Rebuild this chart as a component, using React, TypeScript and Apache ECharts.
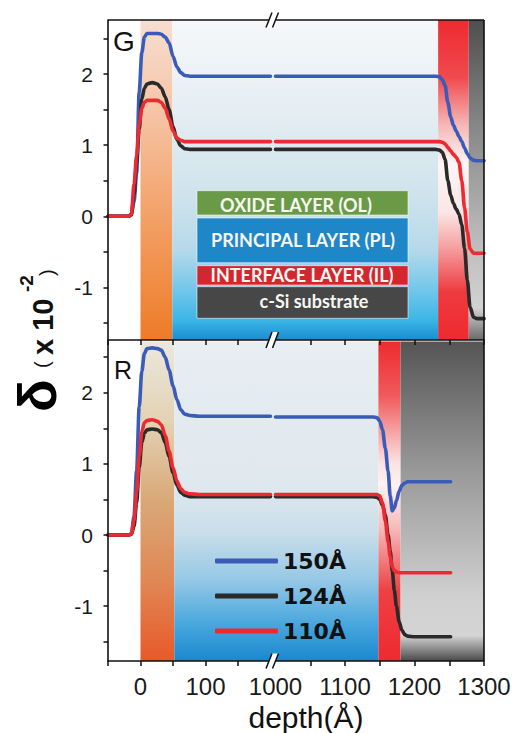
import React, { useEffect, useRef } from 'react';
import * as echarts from 'echarts';

// ---- data -------------------------------------------------------------
const seriesNames = ['150Å', '124Å', '110Å'];
const seriesColors = ['#3a5cb8', '#2a2a2a', '#ee2a30'];

// depth samples (Å) for the surface side and the deep side of the broken axis
const depthNear = [-50, -18, -14, -10, -6, -2, 2, 6, 10, 18, 26, 32, 38, 44, 50, 56, 62, 68, 76, 90, 200];
const depthFarG = [1000, 1230, 1236, 1240, 1244, 1248, 1252, 1256, 1260, 1264, 1268, 1272, 1276, 1280, 1285, 1290, 1300];
const depthFarR = [1000, 1140, 1146, 1150, 1154, 1158, 1162, 1165, 1168, 1171, 1174, 1178, 1182, 1186, 1190, 1200, 1252];

// panel G: delta (x 10^-2)
const gNear150 = [0, 0, 0.03, 0.2, 0.6, 1.75, 2.3, 2.52, 2.57, 2.57, 2.57, 2.56, 2.52, 2.44, 2.25, 2.1, 2.02, 1.98, 1.97, 1.97, 1.97];
const gNear124 = [0, 0, 0.02, 0.3, 0.75, 1.22, 1.65, 1.8, 1.86, 1.88, 1.86, 1.8, 1.68, 1.5, 1.26, 1.08, 0.99, 0.95, 0.94, 0.94, 0.94];
const gNear110 = [0, 0, 0.03, 0.45, 0.85, 1.3, 1.52, 1.6, 1.63, 1.63, 1.63, 1.6, 1.52, 1.37, 1.2, 1.1, 1.07, 1.05, 1.05, 1.05, 1.05];
const gFar150 = [1.97, 1.97, 1.96, 1.92, 1.84, 1.6, 1.4, 1.28, 1.2, 1.12, 1.05, 0.96, 0.88, 0.82, 0.79, 0.78, 0.78];
const gFar124 = [0.94, 0.94, 0.93, 0.9, 0.8, 0.5, 0.3, 0.18, 0.1, 0.03, -0.12, -0.45, -0.9, -1.28, -1.42, -1.44, -1.44];
const gFar110 = [1.05, 1.05, 1.05, 1.04, 1.02, 0.97, 0.92, 0.87, 0.83, 0.76, 0.5, 0.12, -0.22, -0.46, -0.52, -0.52, -0.52];

// panel R: delta (x 10^-2)
const rNear150 = [0, 0, 0.02, 0.26, 0.9, 1.8, 2.3, 2.55, 2.62, 2.63, 2.62, 2.6, 2.5, 2.32, 2.1, 1.9, 1.76, 1.7, 1.68, 1.67, 1.67];
const rNear124 = [0, 0, 0.01, 0.12, 0.45, 0.95, 1.3, 1.43, 1.48, 1.49, 1.48, 1.44, 1.3, 1.1, 0.88, 0.7, 0.6, 0.56, 0.54, 0.54, 0.54];
const rNear110 = [0, 0, 0.02, 0.2, 0.6, 1.1, 1.45, 1.58, 1.61, 1.62, 1.6, 1.55, 1.4, 1.18, 0.95, 0.76, 0.65, 0.6, 0.58, 0.57, 0.57];
const rFar150 = [1.66, 1.66, 1.65, 1.6, 1.48, 1.22, 0.9, 0.55, 0.34, 0.38, 0.48, 0.62, 0.7, 0.73, 0.75, 0.75, 0.75];
const rFar124 = [0.54, 0.54, 0.53, 0.5, 0.42, 0.28, 0.0, -0.22, -0.5, -0.78, -1.0, -1.22, -1.34, -1.4, -1.42, -1.43, -1.43];
const rFar110 = [0.57, 0.57, 0.57, 0.55, 0.45, 0.2, -0.1, -0.3, -0.45, -0.5, -0.52, -0.53, -0.53, -0.53, -0.53, -0.53, -0.53];

// layer boundaries (Å): oxide | principal | interface | substrate
const gLayerEdges = [0, 49, 1234, 1278, 1300];
const rLayerEdges = [0, 52, 1148, 1180, 1300];

// axes
const nearRange = [-50, 203.85];
const farRange = [996.4, 1300];
const gDeltaRange = [-1.74, 2.76];
const rDeltaRange = [-1.77, 2.72];
const depthTicksNear = [-50, 0, 50, 100, 150];
const depthTicksFar = [1050, 1100, 1150, 1200, 1250, 1300];
const depthLabelsNear = [0, 100];
const depthLabelsFar = [1000, 1100, 1200, 1300];
const deltaTicks = [-1.5, -1, -0.5, 0, 0.5, 1, 1.5, 2, 2.5];
const deltaLabels = [-1, 0, 1, 2];

const layerNames = ['OXIDE LAYER (OL)', 'PRINCIPAL LAYER (PL)', 'INTERFACE LAYER (IL)', 'c-Si substrate'];

// ---- styling -----------------------------------------------------------
type Stops = [number, string][];
const gBandStops: Stops[] = [
  [[0, '#f7ded2'], [0.3, '#f5c3a3'], [0.6, '#f3a26a'], [0.85, '#f08a40'], [1, '#ee7a28']],
  [[0, '#f6f8fa'], [0.3, '#e4edf2'], [0.55, '#cfe3ec'], [0.72, '#b5d9ea'], [0.85, '#6ec6ea'], [0.94, '#3bb5e6'], [1, '#1a8cd0']],
  [[0, '#ee2a30'], [0.18, '#f04a4e'], [0.33, '#f6b8b8'], [0.45, '#fdf5f5'], [0.6, '#fbe6e6'], [0.72, '#f49a9a'], [0.85, '#ee3a3f'], [1, '#ee2a30']],
  [[0, '#4e4e4e'], [0.35, '#8a8a8a'], [0.7, '#bdbdbd'], [0.9, '#d2d2d2'], [1, '#6a6a6a']],
];
const rBandStops: Stops[] = [
  [[0, '#ebe8dc'], [0.25, '#e3d2b4'], [0.5, '#d9a877'], [0.75, '#e08754'], [1, '#e9582a']],
  [[0, '#e8eef2'], [0.45, '#dfe8ee'], [0.6, '#c9deea'], [0.75, '#94c7e5'], [0.88, '#4aa8de'], [1, '#1a88cf']],
  [[0, '#ee2a30'], [0.17, '#f05a5c'], [0.38, '#fbe2e2'], [0.45, '#fdf2f2'], [0.58, '#f6bcbc'], [0.78, '#ee4044'], [1, '#ee2a30']],
  [[0, '#555555'], [0.4, '#989898'], [0.8, '#d0d0d0'], [0.92, '#d4d4d4'], [1, '#4a4a4a']],
];
const layerBoxColors = ['#6b9a46', '#1f87c8', '#d3262e', '#474747'];

const FONT = '"Liberation Sans", Arial, sans-serif';
const X_L = 108;
const X_B = 273;
const X_R = 484;
const G_TOP = 20;
const G_BOT = 340;
const R_TOP = 341.5;
const R_BOT = 661;

const gradient = (stops: Stops) =>
  new echarts.graphic.LinearGradient(0, 0, 0, 1, stops.map(([offset, color]) => ({ offset, color })));

function bandAreas(edges: number[], stops: Stops[], range: number[]) {
  const out: any[] = [];
  for (let i = 0; i < edges.length - 1; i++) {
    const from = Math.max(edges[i], range[0]);
    const to = Math.min(edges[i + 1], range[1]);
    if (from < to) {
      out.push([{ xAxis: from, itemStyle: { color: gradient(stops[i]) } }, { xAxis: to }]);
    }
  }
  return out;
}

const zip = (xs: number[], ys: number[]) => xs.map((x, i) => [x, ys[i]]);

function segmentSeries(gridIdx: number, depth: number[], values: number[][], areas: any[]) {
  const list: any[] = [
    {
      type: 'line',
      xAxisIndex: gridIdx,
      yAxisIndex: gridIdx,
      data: [],
      z: 1,
      silent: true,
      markArea: { silent: true, data: areas, itemStyle: { borderWidth: 0.6, borderColor: 'inherit' } },
    },
  ];
  values.forEach((v, i) => {
    list.push({
      type: 'line',
      name: seriesNames[i],
      color: seriesColors[i],
      xAxisIndex: gridIdx,
      yAxisIndex: gridIdx,
      data: zip(depth, v),
      showSymbol: false,
      symbol: 'none',
      smooth: 0.3,
      smoothMonotone: 'x',
      z: 3,
      lineStyle: { width: 3.6, color: seriesColors[i], cap: 'round', join: 'round' },
    });
  });
  return list;
}

function xAxis(gridIdx: number, range: number[], ticks: number[], labels: number[] | null) {
  return {
    type: 'value',
    gridIndex: gridIdx,
    min: range[0],
    max: range[1],
    position: 'bottom',
    z: 10,
    axisLine: { show: true, onZero: false, lineStyle: { color: '#111', width: 1.6 } },
    axisTick: { show: true, inside: false, length: 5, customValues: ticks, lineStyle: { color: '#111', width: 1.5 } },
    axisLabel: labels
      ? {
          show: true,
          customValues: labels,
          margin: 13,
          fontSize: 24,
          fontFamily: FONT,
          color: '#1a1a1a',
          formatter: (v: number) => String(v),
        }
      : { show: false },
    splitLine: { show: false },
  };
}

function yAxis(gridIdx: number, range: number[], visible: boolean) {
  return {
    type: 'value',
    gridIndex: gridIdx,
    min: range[0],
    max: range[1],
    show: visible,
    position: 'left',
    z: 10,
    axisLine: { show: true, onZero: false, lineStyle: { color: '#111', width: 1.6 } },
    axisTick: { show: true, inside: false, length: 4.5, customValues: deltaTicks, lineStyle: { color: '#111', width: 1.5 } },
    axisLabel: {
      show: true,
      customValues: deltaLabels,
      margin: 15,
      fontSize: 21,
      fontFamily: FONT,
      color: '#1a1a1a',
      formatter: (v: number) => String(v),
    },
    splitLine: { show: false },
  };
}

function breakMark(y: number, h: number) {
  const a = 266;
  const w = 6;
  const s = 6.5;
  return [
    {
      type: 'polygon',
      z: 60,
      shape: { points: [[a, y + h], [a + w, y - h], [a + w + s, y - h], [a + s, y + h]] },
      style: { fill: '#ffffff' },
    },
    { type: 'line', z: 61, shape: { x1: a, y1: y + h, x2: a + w, y2: y - h }, style: { stroke: '#111', lineWidth: 1.5 } },
    { type: 'line', z: 61, shape: { x1: a + s, y1: y + h, x2: a + w + s, y2: y - h }, style: { stroke: '#111', lineWidth: 1.5 } },
  ];
}

function layerBox() {
  const rects = [
    [197, 190.7, 211, 24.3],
    [197, 218, 211, 44.7],
    [197, 265.7, 211, 19.3],
    [197, 286.7, 211, 31.6],
  ];
  const textPos = [
    [296, 204.5],
    [303, 240],
    [302, 275],
    [314, 301],
  ];
  const els: any[] = [];
  rects.forEach((r, i) => {
    els.push({
      type: 'rect',
      z: 50,
      shape: { x: r[0], y: r[1], width: r[2], height: r[3] },
      style: { fill: layerBoxColors[i], stroke: 'rgba(255,255,255,0.55)', lineWidth: 1 },
    });
    els.push({
      type: 'text',
      z: 51,
      x: textPos[i][0],
      y: textPos[i][1],
      style: {
        text: layerNames[i],
        fill: '#f6f6f2',
        font: 'bold 18px Lato, "Open Sans", sans-serif',
        align: 'center',
        verticalAlign: 'middle',
      },
    });
  });
  return els;
}

function buildOption(): any {
  const gridBox = (left: number, right: number, top: number, bottom: number) => ({
    left,
    top,
    width: right - left,
    height: bottom - top,
    containLabel: false,
  });
  return {
    animation: false,
    backgroundColor: '#ffffff',
    grid: [
      gridBox(X_L, X_B, G_TOP, G_BOT),
      gridBox(X_B, X_R, G_TOP, G_BOT),
      gridBox(X_L, X_B, R_TOP, R_BOT),
      gridBox(X_B, X_R, R_TOP, R_BOT),
    ],
    xAxis: [
      xAxis(0, nearRange, depthTicksNear, null),
      xAxis(1, farRange, depthTicksFar, null),
      xAxis(2, nearRange, depthTicksNear, depthLabelsNear),
      xAxis(3, farRange, depthTicksFar, depthLabelsFar),
    ],
    yAxis: [
      yAxis(0, gDeltaRange, true),
      yAxis(1, gDeltaRange, false),
      yAxis(2, rDeltaRange, true),
      yAxis(3, rDeltaRange, false),
    ],
    legend: {
      data: seriesNames,
      orient: 'vertical',
      left: 215,
      top: 549,
      padding: 0,
      itemWidth: 63,
      itemHeight: 5,
      itemGap: 11,
      icon: 'roundRect',
      selectedMode: false,
      textStyle: { fontFamily: '"DejaVu Sans", sans-serif', fontWeight: 'bold', fontSize: 22, lineHeight: 24, color: '#111' },
    },
    series: [
      ...segmentSeries(0, depthNear, [gNear150, gNear124, gNear110], bandAreas(gLayerEdges, gBandStops, nearRange)),
      ...segmentSeries(1, depthFarG, [gFar150, gFar124, gFar110], bandAreas(gLayerEdges, gBandStops, farRange)),
      ...segmentSeries(2, depthNear, [rNear150, rNear124, rNear110], bandAreas(rLayerEdges, rBandStops, nearRange)),
      ...segmentSeries(3, depthFarR, [rFar150, rFar124, rFar110], bandAreas(rLayerEdges, rBandStops, farRange)),
    ],
    graphic: [
      // panel frame (top and right edges)
      { type: 'line', z: 55, shape: { x1: X_L, y1: G_TOP, x2: X_R, y2: G_TOP }, style: { stroke: '#111', lineWidth: 1.6 } },
      { type: 'line', z: 55, shape: { x1: X_R, y1: G_TOP, x2: X_R, y2: R_BOT }, style: { stroke: '#111', lineWidth: 1.6 } },
      ...breakMark(G_TOP, 7.5),
      ...breakMark(G_BOT, 8),
      ...breakMark(R_BOT, 7.5),
      ...layerBox(),
      { type: 'text', z: 55, x: 113, y: 41, style: { text: 'G', font: `28px ${FONT}`, fill: '#111', verticalAlign: 'middle' } },
      { type: 'text', z: 55, x: 114, y: 370, style: { text: 'R', font: `25px ${FONT}`, fill: '#111', verticalAlign: 'middle' } },
      {
        type: 'text',
        z: 55,
        x: 306,
        y: 717,
        style: { text: 'depth(Å)', font: `30px ${FONT}`, fill: '#111', align: 'center', verticalAlign: 'middle' },
      },
      {
        type: 'group',
        x: 55,
        y: 412,
        rotation: Math.PI / 2,
        children: [
          { type: 'text', x: 0, y: 9, style: { text: 'δ', font: `bold 54px ${FONT}`, fill: '#000', verticalAlign: 'bottom' } },
          { type: 'text', x: 44, y: -3, style: { text: '(', font: `20px ${FONT}`, fill: '#111', verticalAlign: 'bottom' } },
          { type: 'text', x: 57, y: 2.5, style: { text: 'x 10', font: `bold 29px ${FONT}`, fill: '#111', verticalAlign: 'bottom' } },
          { type: 'text', x: 120, y: -19, style: { text: '-2', font: `bold 19px ${FONT}`, fill: '#111', verticalAlign: 'bottom' } },
          { type: 'text', x: 136, y: 2, style: { text: ')', font: `20px ${FONT}`, fill: '#111', verticalAlign: 'bottom' } },
        ],
      },
    ],
  };
}

export default function App() {
  const ref = useRef<HTMLDivElement>(null);
  useEffect(() => {
    if (!ref.current) return;
    const chart = echarts.init(ref.current, null, { renderer: 'svg' });
    chart.setOption(buildOption());
    return () => chart.dispose();
  }, []);
  return <div ref={ref} style={{ position: 'absolute', left: 0, top: 0, width: 514, height: 733 }} />;
}
